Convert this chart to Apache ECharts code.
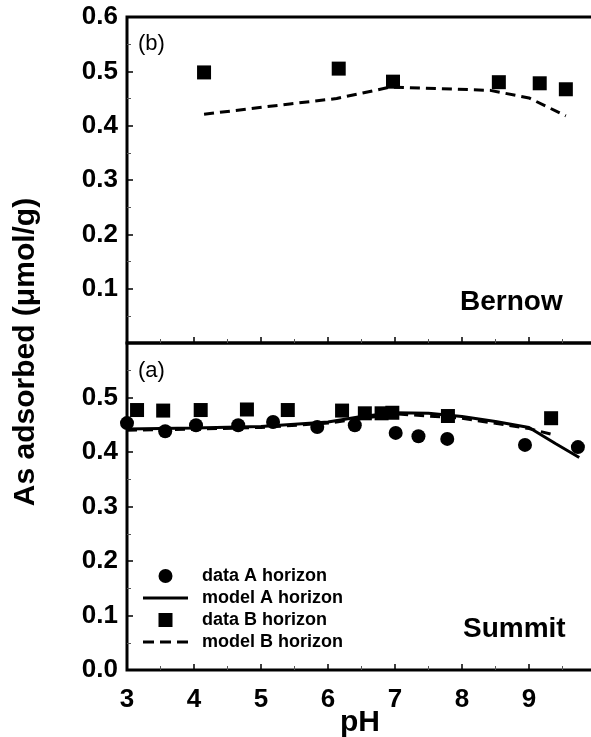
<!DOCTYPE html>
<html lang="en">
<head>
<meta charset="UTF-8">
<title>As adsorbed vs pH</title>
<script src="https://cdn.jsdelivr.net/npm/echarts@6/dist/echarts.min.js"></script>
<style>
  html, body { margin: 0; padding: 0; background: #fff; }
  #main { width: 591px; height: 737px; }
</style>
</head>
<body>
<div id="main"></div>
<script type="text/javascript">
// ---- data ----
// (b) Bernow
var bernowDataBX = [4.15, 6.16, 6.97, 8.55, 9.16, 9.55];
var bernowDataBY = [0.498, 0.505, 0.481, 0.480, 0.478, 0.467];
var bernowModelBX = [4.15, 5.43, 6.13, 6.93, 8.42, 9.0, 9.55];
var bernowModelBY = [0.421, 0.440, 0.450, 0.471, 0.465, 0.451, 0.418];
// (a) Summit
var summitDataAX = [3.0, 3.57, 4.03, 4.66, 5.18, 5.84, 6.4, 7.01, 7.35, 7.78, 8.94, 9.73];
var summitDataAY = [0.453, 0.438, 0.449, 0.449, 0.455, 0.446, 0.449, 0.435, 0.429, 0.424, 0.413, 0.409];
var summitDataBX = [3.15, 3.54, 4.1, 4.79, 5.4, 6.21, 6.55, 6.8, 6.96, 7.79, 9.33];
var summitDataBY = [0.477, 0.476, 0.477, 0.478, 0.477, 0.476, 0.471, 0.471, 0.472, 0.466, 0.462];
var summitModelAX = [3.0, 4.0, 5.0, 6.0, 6.5, 7.0, 7.5, 8.0, 8.5, 9.0, 9.4, 9.75];
var summitModelAY = [0.442, 0.444, 0.447, 0.455, 0.465, 0.472, 0.471, 0.465, 0.456, 0.445, 0.415, 0.390];
var summitModelBX = [3.0, 4.0, 5.0, 6.0, 7.0, 8.0, 9.0, 9.35];
var summitModelBY = [0.440, 0.442, 0.445, 0.453, 0.470, 0.462, 0.443, 0.432];

var legendNames = ['data A horizon', 'model A horizon', 'data B horizon', 'model B horizon'];
var xTicks = [3, 4, 5, 6, 7, 8, 9];

function pairs(xs, ys) {
    var out = [];
    for (var i = 0; i < xs.length; ++i) out.push([xs[i], ys[i]]);
    return out;
}

var FONT = "'Liberation Sans', Arial, sans-serif";
var myChart = echarts.init(document.getElementById('main'));

function xAxisFor(gridIndex, showLabels) {
    return {
        type: 'value', gridIndex: gridIndex, min: 3, max: 10, interval: 1,
        axisLine: { show: false },
        axisTick: { show: true, inside: true, length: 6, lineStyle: { color: '#000', width: 1.5 } },
        minorTick: { show: true, splitNumber: 2, length: 4, lineStyle: { color: '#555', width: 1 } },
        splitLine: { show: false },
        axisLabel: {
            show: showLabels, margin: 17, color: '#000', fontSize: 26, fontWeight: 'bold', fontFamily: FONT,
            formatter: function (v) { return xTicks.indexOf(v) >= 0 ? String(v) : ''; }
        }
    };
}

function yAxisFor(gridIndex, hide) {
    return {
        type: 'value', gridIndex: gridIndex, min: 0, max: 0.6, interval: 0.1,
        axisLine: { show: false },
        axisTick: { show: true, inside: true, length: 6, lineStyle: { color: '#000', width: 1.5 } },
        minorTick: { show: true, splitNumber: 2, length: 4, lineStyle: { color: '#555', width: 1 } },
        splitLine: { show: false },
        axisLabel: {
            margin: 9, color: '#000', fontSize: 26, fontWeight: 'bold', fontFamily: FONT,
            formatter: function (v) { return hide(v) ? '' : v.toFixed(1); }
        }
    };
}

var solid = { color: '#000', width: 3, type: 'solid' };
var dashed = { color: '#000', width: 3, type: [10, 6] };
var squareIcon = 'path://M0,0L10,0L10,10L0,10Z';
var solidIcon = 'path://M0,0L45,0L45,3L0,3Z';
var dashIcon = 'path://M0,0L11,0L11,3L0,3Z M17,0L28,0L28,3L17,3Z M34,0L45,0L45,3L34,3Z';
var black = { color: '#000', opacity: 1 };

option = {
    animation: false,
    backgroundColor: '#fff',
    grid: [
        { left: 127, top: 17, width: 469, height: 326, show: true, borderColor: '#000', borderWidth: 3,
          outerBoundsMode: 'none' },
        { left: 127, top: 343, width: 469, height: 327, show: true, borderColor: '#000', borderWidth: 3,
          outerBoundsMode: 'none' }
    ],
    xAxis: [xAxisFor(0, false), xAxisFor(1, true)],
    yAxis: [
        yAxisFor(0, function (v) { return v < 0.05; }),
        yAxisFor(1, function (v) { return v > 0.55; })
    ],
    legend: {
        orient: 'vertical', left: 138, top: 562, padding: 5,
        itemWidth: 45, itemHeight: 14, itemGap: 4,
        itemStyle: { color: '#000', opacity: 1 },
        textStyle: { color: '#000', fontSize: 18, fontWeight: 'bold', fontFamily: FONT, padding: [0, 0, 0, 9] },
        data: [
            { name: legendNames[0], icon: 'circle' },
            { name: legendNames[1], icon: solidIcon },
            { name: legendNames[2], icon: squareIcon },
            { name: legendNames[3], icon: dashIcon }
        ]
    },
    series: [
        // top panel (b) Bernow
        { name: legendNames[3], type: 'line', xAxisIndex: 0, yAxisIndex: 0, symbol: 'none',
          lineStyle: dashed, itemStyle: black, data: pairs(bernowModelBX, bernowModelBY) },
        { name: legendNames[2], type: 'scatter', xAxisIndex: 0, yAxisIndex: 0, symbol: 'rect', symbolSize: 14,
          itemStyle: black, data: pairs(bernowDataBX, bernowDataBY) },
        // bottom panel (a) Summit
        { name: legendNames[3], type: 'line', xAxisIndex: 1, yAxisIndex: 1, symbol: 'none',
          lineStyle: dashed, itemStyle: black, data: pairs(summitModelBX, summitModelBY) },
        { name: legendNames[1], type: 'line', xAxisIndex: 1, yAxisIndex: 1, symbol: 'none',
          lineStyle: solid, itemStyle: black, data: pairs(summitModelAX, summitModelAY) },
        { name: legendNames[2], type: 'scatter', xAxisIndex: 1, yAxisIndex: 1, symbol: 'rect', symbolSize: 14,
          itemStyle: black, data: pairs(summitDataBX, summitDataBY) },
        { name: legendNames[0], type: 'scatter', xAxisIndex: 1, yAxisIndex: 1, symbol: 'circle', symbolSize: 14,
          clip: false, itemStyle: black, data: pairs(summitDataAX, summitDataAY) }
    ],
    graphic: [
        { type: 'text', left: 138, top: 33, style: { text: '(b)', fontSize: 22, fontFamily: FONT, fill: '#000' } },
        { type: 'text', left: 138, top: 360, style: { text: '(a)', fontSize: 22, fontFamily: FONT, fill: '#000' } },
        { type: 'text', left: 460, top: 288, style: { text: 'Bernow', fontSize: 28, fontWeight: 'bold', fontFamily: FONT, fill: '#000' } },
        { type: 'text', left: 463, top: 615, style: { text: 'Summit', fontSize: 28, fontWeight: 'bold', fontFamily: FONT, fill: '#000' } },
        { type: 'text', left: 340, top: 708, style: { text: 'pH', fontSize: 30, fontWeight: 'bold', fontFamily: FONT, fill: '#000' } },
        { type: 'text', x: 26, y: 352, rotation: Math.PI / 2,
          style: { text: 'As adsorbed (\u03bcmol/g)', fontSize: 30, fontWeight: 'bold', fontFamily: FONT, fill: '#000',
                   align: 'center', verticalAlign: 'middle' } }
    ]
};
myChart.setOption(option);
</script>
</body>
</html>
